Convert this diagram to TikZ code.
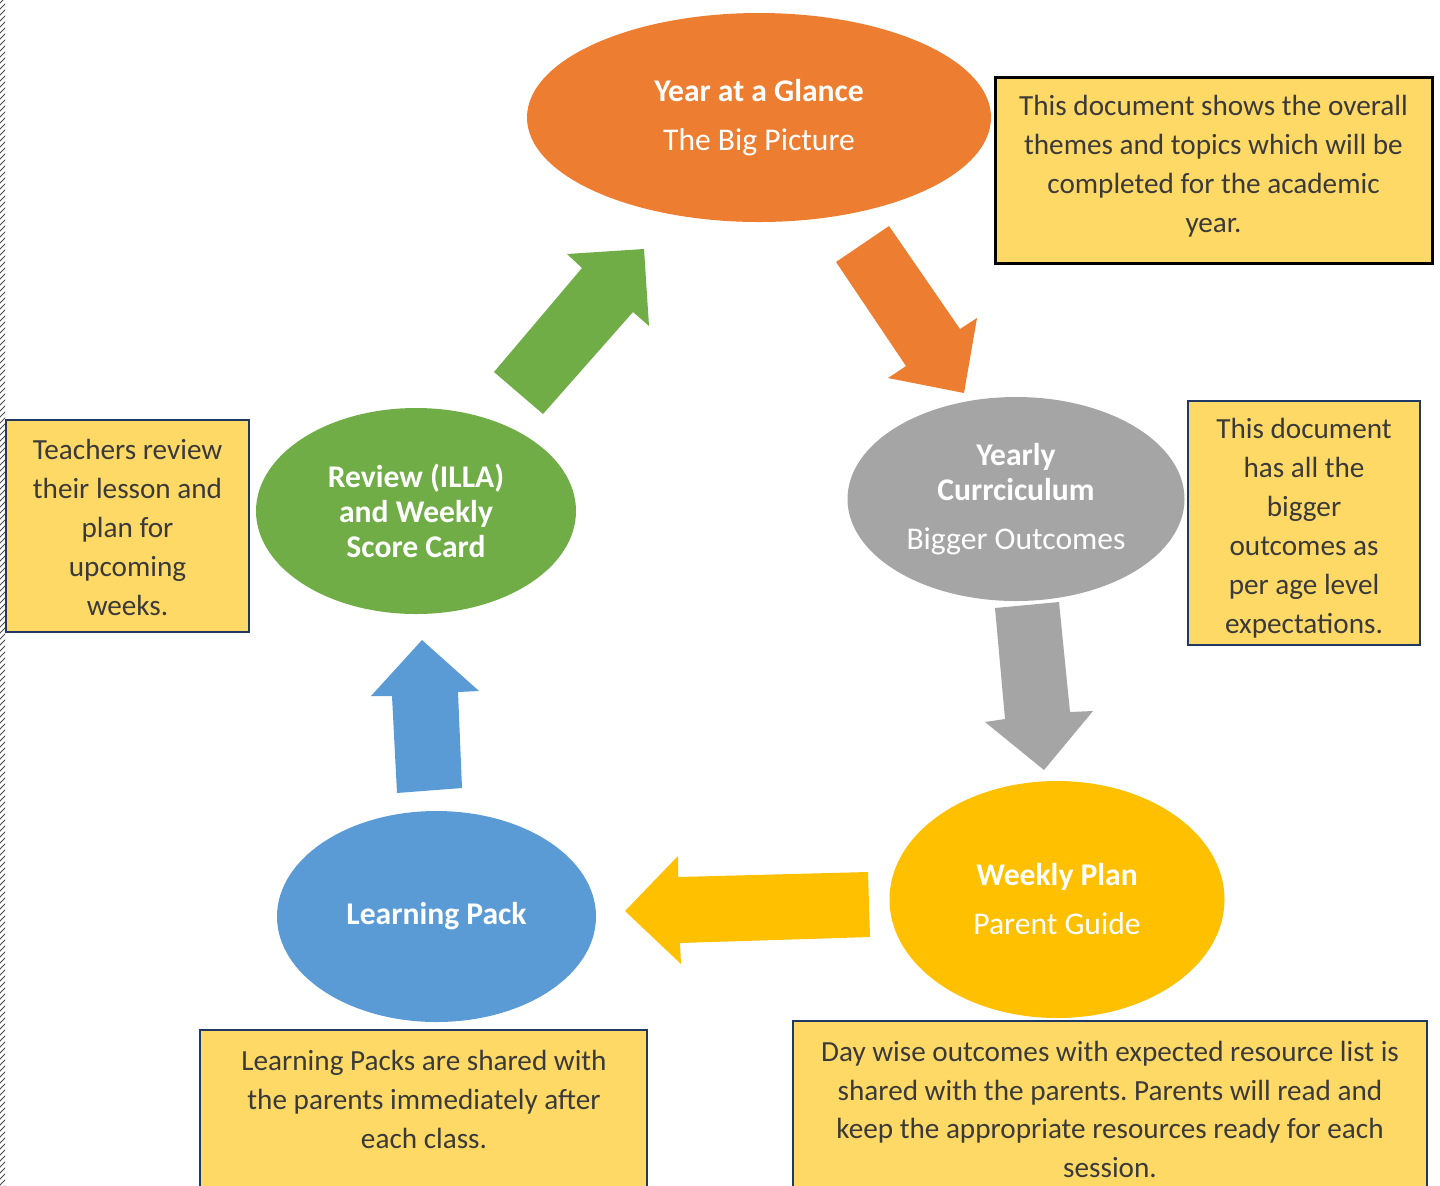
\documentclass[tikz,border=0pt]{standalone}
\usepackage{fontspec}
\setmainfont{Carlito}
\usetikzlibrary{shapes.geometric,patterns}
\frenchspacing

\definecolor{glanceorange}{HTML}{ED7D31}
\definecolor{yearlygray}{HTML}{A5A5A5}
\definecolor{weeklyyellow}{HTML}{FFC000}
\definecolor{packblue}{HTML}{5B9BD5}
\definecolor{reviewgreen}{HTML}{70AD47}
\definecolor{notefill}{HTML}{FFD966}
\definecolor{notenavy}{HTML}{1F3864}
\definecolor{notegray}{HTML}{3A3A3A}

\begin{document}
\begin{tikzpicture}[x=0.5pt,y=0.5pt,yscale=-1,xscale=1,
    stage/.style={ellipse, inner sep=0pt, text=white, align=center, font=\fontsize{15.8}{17.5}\selectfont},
    note/.style={draw=notenavy, line width=1pt, fill=notefill},
    notetext/.style={text=notegray, align=center, inner sep=0pt, font=\fontsize{14.6}{19.5}\selectfont}]
        \useasboundingbox (0,0) rectangle (1440,1185);
        \clip (0,0) rectangle (1440,1185);
        \fill [white] (0,0) rectangle (1440,1185);
        %Shape: scanned edge strip
        \fill [pattern=north east lines, pattern color=black!70] (0,0) rectangle (5,1185);

        %Shape: Ellipse [id:year]
        \node [stage, fill=glanceorange, minimum width=232pt, minimum height=104.5pt] (glance) at (759,117.5) {\textbf{Year at a Glance}\\[7pt]The Big Picture};
        %Shape: Ellipse [id:curriculum]
        \node [stage, fill=yearlygray, minimum width=168.5pt, minimum height=102pt] (yearly) at (1016,499) {\textbf{Yearly}\\\textbf{Currciculum}\\[7pt]Bigger Outcomes};
        %Shape: Ellipse [id:plan]
        \node [stage, fill=weeklyyellow, minimum width=167.5pt, minimum height=118.5pt] (weekly) at (1057,899.5) {\textbf{Weekly Plan}\\[7pt]Parent Guide};
        %Shape: Ellipse [id:pack]
        \node [stage, fill=packblue, minimum width=159.5pt, minimum height=105.5pt] (pack) at (436.5,916.5) {\textbf{Learning Pack}};
        %Shape: Ellipse [id:review]
        \node [stage, fill=reviewgreen, minimum width=160pt, minimum height=103pt] (review) at (416,511) {\textbf{Review (ILLA)}\\\textbf{and Weekly}\\\textbf{Score Card}};

        %Shape: Right Arrow [id:orange]
        \fill [glanceorange] (836,262) -- (889,226) -- (960,329) -- (977,318) -- (964,393) -- (888,378) -- (906,366) -- cycle ;
        %Shape: Right Arrow [id:gray]
        \fill [yearlygray] (995,608) -- (1059,602) -- (1070,712) -- (1093,711) -- (1044,770) -- (985,722) -- (1005,719) -- cycle ;
        %Shape: Right Arrow [id:yellow]
        \fill [weeklyyellow] (868,872) -- (870,937) -- (680,943) -- (681,964) -- (625,911) -- (678,856) -- (678,877) -- cycle ;
        %Shape: Right Arrow [id:blue]
        \fill [packblue] (397,793) -- (462,788) -- (458,692) -- (479,691) -- (422,640) -- (371,696) -- (392,696) -- cycle ;
        %Shape: Right Arrow [id:green]
        \fill [reviewgreen] (494,372) -- (582,268) -- (567,254) -- (644,249) -- (649,326) -- (633,312) -- (543,414) -- cycle ;

        %Shape: Rectangle [id:notes]
        \draw [note, draw=black, line width=1.5pt] (995,77) rectangle (1432,263);
        \draw [note] (1188,401) rectangle (1420,645);
        \draw [note] (6,420) rectangle (249,632);
        \draw [note] (200,1030) rectangle (647,1200);
        \draw [note] (793,1021) rectangle (1427,1200);

        % Text Node
        \node [notetext] (glancenote) at (1213.5,166) {This document shows the overall\\themes and topics which will be\\completed for the academic\\year.};
        % Text Node
        \node [notetext] (yearlynote) at (1304,528.5) {This document\\has all the\\bigger\\outcomes as\\per age level\\expectations.};
        % Text Node
        \node [notetext] (reviewnote) at (127.5,527.5) {Teachers review\\their lesson and\\plan for\\upcoming\\weeks.};
        % Text Node
        \node [notetext] (packnote) at (424,1099.5) {Learning Packs are shared with\\the parents immediately after\\each class.};
        % Text Node
        \node [notetext, font=\fontsize{14.6}{19.2}\selectfont] (weeklynote) at (1110,1109.5) {Day wise outcomes with expected resource list is\\shared with the parents. Parents will read and\\keep the appropriate resources ready for each\\session.};
\end{tikzpicture}
\end{document}
